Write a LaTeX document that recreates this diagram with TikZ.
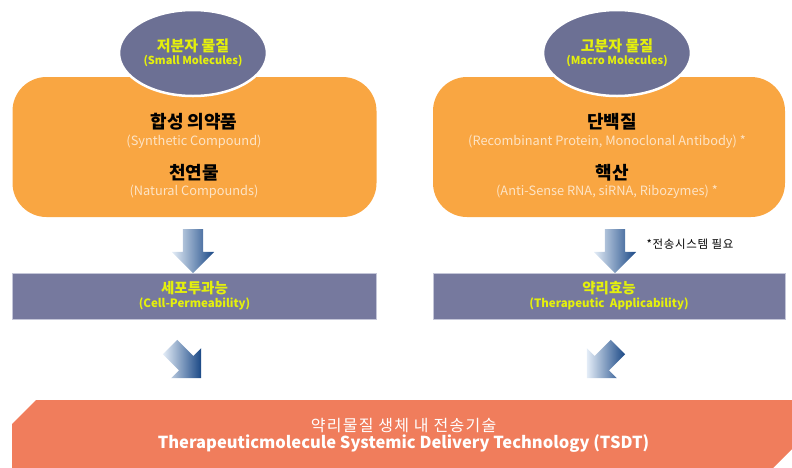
\documentclass[tikz,border=0pt]{standalone}
\usepackage{fontspec}
\setmainfont{Noto Sans CJK KR}
\usetikzlibrary{shapes.geometric, shapes.arrows, shapes.misc, positioning}
\definecolor{boxOrange}{RGB}{249,166,66}
\definecolor{kindGray}{RGB}{108,112,148}
\definecolor{kindText}{RGB}{228,240,12}
\definecolor{bandGray}{RGB}{118,121,158}
\definecolor{bandEdge}{RGB}{196,198,216}
\definecolor{paleText}{RGB}{253,228,198}
\definecolor{tsdtRed}{RGB}{240,125,92}
\definecolor{arrowTop}{RGB}{228,237,247}
\definecolor{arrowMid}{RGB}{84,133,196}
\definecolor{arrowDark}{RGB}{26,72,134}

\begin{document}
\begin{tikzpicture}[x=1pt, y=-1pt,
        group/.style={rectangle, rounded corners=34pt, fill=boxOrange, minimum width=364pt, minimum height=140pt},
        kind/.style={ellipse, fill=kindGray, draw=white, line width=2.5pt, minimum width=148pt, minimum height=86pt, inner sep=0pt, align=center, text=kindText},
        band/.style={rectangle, fill=bandGray, draw=bandEdge, line width=0.8pt, minimum width=364pt, minimum height=46pt, inner sep=0pt, align=center, text=kindText},
        flow/.style={single arrow, single arrow head extend=11pt, single arrow tip angle=90, single arrow head indent=0pt, minimum width=42pt, minimum height=44pt, inner xsep=0pt, inner ysep=10pt,
            left color=arrowTop, middle color=arrowMid, right color=arrowDark},
        head/.style={font=\fontsize{18}{20}\selectfont\bfseries},
        sub/.style={font=\fontsize{12.8}{14}\selectfont, text=paleText},
        note/.style={font=\fontsize{11.5}{13}\selectfont\addfontfeatures{LetterSpace=6}, anchor=west}]

        \useasboundingbox (0,0) rectangle (792,467);

        \node[group] (gl) at (194.5,147) {};
        \node[group, minimum width=352pt] (gr) at (609,147) {};

        \node[kind] (kl) at (193,53) {{\fontsize{15}{16}\selectfont\bfseries 저분자 물질}\\[1pt]{\fontsize{11}{12}\selectfont\bfseries (Small Molecules)}};
        \node[kind] (kr) at (617,53) {{\fontsize{15}{16}\selectfont\bfseries 고분자 물질}\\[1pt]{\fontsize{11}{12}\selectfont\bfseries (Macro Molecules)}};

        \node[head] (syn) at (194,122) {합성 의약품};
        \node[sub] at (194,142) {(Synthetic Compound)};
        \node[head] (nat) at (194,173) {천연물};
        \node[sub] at (194,192) {(Natural Compounds)};

        \node[head] (prot) at (612,122) {단백질};
        \node[sub] at (607,142) {(Recombinant Protein, Monoclonal Antibody) *};
        \node[head] (nuc) at (612,173) {핵산};
        \node[sub] at (607,192) {(Anti-Sense RNA, siRNA, Ribozymes) *};

        \node[flow, rotate=-90] (al) at (193,246) {};
        \node[flow, rotate=-90] (ar) at (615,246) {};
        \node[note] (req) at (643,244) {*전송시스템 필요};

        \node[band] (cell) at (194.5,296) {{\fontsize{14.5}{16}\selectfont\bfseries 세포투과능}\\[2pt]{\fontsize{11.5}{12}\selectfont\bfseries (Cell-Permeability)}};
        \node[band, minimum width=352pt] (ther) at (609,296) {{\fontsize{14.5}{16}\selectfont\bfseries 약리효능}\\[2pt]{\fontsize{11.5}{12}\selectfont\bfseries (Therapeutic\ \ Applicability)}};

        \node[flow, rotate=-45] (dl) at (182,359) {};
        \node[flow, rotate=-135] (dr) at (606,359) {};

        \node[chamfered rectangle, chamfered rectangle corners={north west, south east}, chamfered rectangle xsep=12pt, chamfered rectangle ysep=12pt,
              fill=tsdtRed, minimum width=783pt, minimum height=70pt, align=center, text=white] (tsdt) at (403.5,435)
              {{\fontsize{16}{18}\selectfont\addfontfeatures{LetterSpace=8}약리물질 생체 내 전송기술}\\[1pt]{\fontsize{16.5}{18}\selectfont\bfseries Therapeuticmolecule Systemic Delivery Technology (TSDT)}};
    \end{tikzpicture}
\end{document}
